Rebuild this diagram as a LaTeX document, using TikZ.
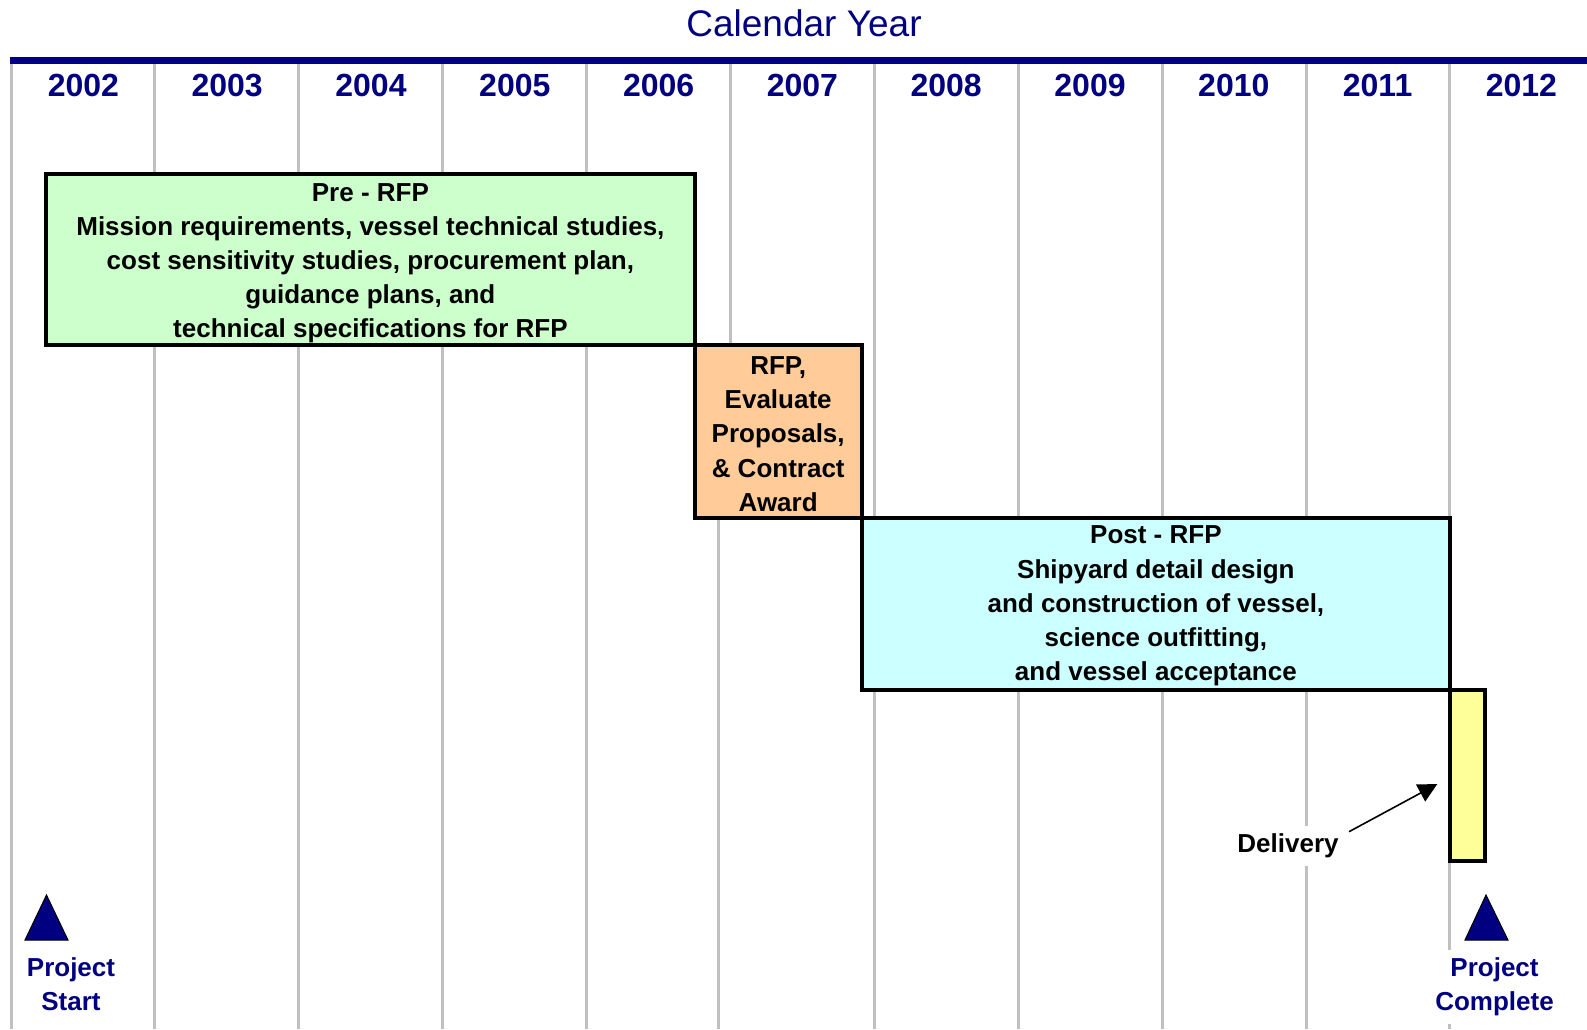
\documentclass[tikz,border=0pt]{standalone}
\usepackage{fontspec}
\setmainfont{Liberation Sans}
\usetikzlibrary{arrows.meta}
\definecolor{navy}{RGB}{0,0,128}
\definecolor{gridgray}{RGB}{192,192,192}
\definecolor{prefill}{RGB}{204,255,204}
\definecolor{rfpfill}{RGB}{255,204,153}
\definecolor{postfill}{RGB}{204,255,255}
\definecolor{delfill}{RGB}{255,255,153}
\begin{document}
\begin{tikzpicture}[x=1pt,y=-1pt,
  gridline/.style={draw=gridgray, line width=3pt},
  phase/.style={draw=black, line width=4pt, inner sep=0pt, outer sep=0pt, anchor=north west},
  boxtxt/.style={font=\fontsize{26}{34.2}\selectfont\bfseries, align=center, inner sep=0pt, anchor=north},
  yearlbl/.style={font=\fontsize{32}{38}\selectfont\bfseries, text=navy, inner sep=0pt, anchor=base},
  milestone/.style={font=\fontsize{26}{34.2}\selectfont\bfseries, text=navy, align=center, fill=white, inner sep=8pt, anchor=north},
  marker/.style={fill=navy, draw=black, line width=1pt, line join=miter},
  pointer/.style={draw=black, line width=1.6pt, -{Triangle[length=19pt,width=19pt]}},
]
\useasboundingbox (0,0) rectangle (1587,1029);
\fill[white] (0,0) rectangle (1587,1029);

% title and top bar
\node[font=\fontsize{37}{42}\selectfont, text=navy, inner sep=0pt, anchor=base] (title) at (804,36.7) {Calendar Year};
\fill[navy] (10,57) rectangle (1587,64);

% grid lines
\foreach \gx in {11.5,154,298,442,586,874,1018,1162,1306,1449.5}
  \draw[gridline] (\gx,64) -- (\gx,1029);
\draw[gridline] (730.5,64) -- (730.5,346);
\draw[gridline] (718,518) -- (718,1029);

% years
\foreach \i in {0,...,10} {
  \pgfmathtruncatemacro\yr{2002+\i}
  \node[yearlbl] (y\yr) at ({83.4+143.8*\i},96.7) {\yr};
}

% phase boxes
\node[phase, fill=prefill, minimum width=648.2pt, minimum height=170.8pt] (pre) at (46.3,173.7) {};
\node[phase, fill=rfpfill, minimum width=167.5pt, minimum height=173.5pt] (rfp) at (694.5,344.5) {};
\node[phase, fill=postfill, minimum width=587.7pt, minimum height=172pt] (post) at (862,518) {};
\node[phase, fill=delfill, minimum width=35.6pt, minimum height=171.3pt] (del) at (1449.7,690) {};

% phase texts
\node[boxtxt] (pretxt) at (370.4,183) {Pre - RFP\\Mission requirements, vessel technical studies,\\cost sensitivity studies, procurement plan,\\guidance plans, and\\technical specifications for RFP};
\node[boxtxt] (rfptxt) at (778.2,356.5) {RFP,\\Evaluate\\Proposals,\\\& Contract\\Award};
\node[boxtxt] (posttxt) at (1155.9,525.8) {Post - RFP\\Shipyard detail design\\and construction of vessel,\\science outfitting,\\and vessel acceptance};

% delivery label and arrow
\node[font=\fontsize{26}{30}\selectfont\bfseries, fill=white, inner sep=8pt, anchor=base] (delivery) at (1288,852.7) {Delivery};
\coordinate (dtail) at (1349,831.7);
\coordinate (dhead) at (1437.3,784);
\draw[pointer] (dtail) -- (dhead);

% milestones
\path[marker] (25,940) -- (46.5,895) -- (68,940) -- cycle;
\path[marker] (1465,940) -- (1486,895) -- (1508,940) -- cycle;
\node[milestone] (start) at (71,949) {Project\\Start};
\node[milestone] (complete) at (1494.5,949.5) {Project\\Complete};
\end{tikzpicture}
\end{document}
